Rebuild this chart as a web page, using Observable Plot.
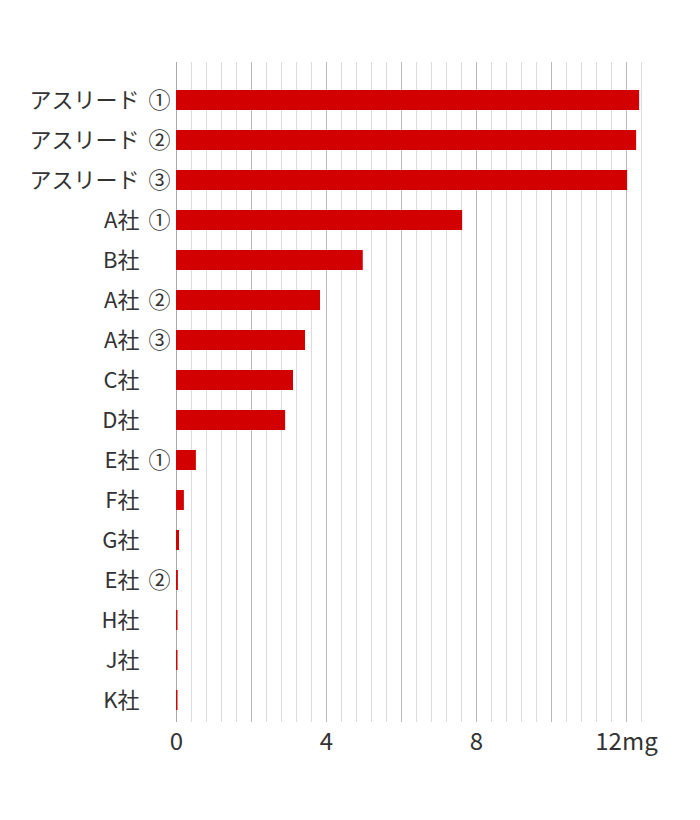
<!DOCTYPE html>
<html><head><meta charset="utf-8">
<script src="https://cdn.jsdelivr.net/npm/d3@7"></script>
<script src="https://cdn.jsdelivr.net/npm/@observablehq/plot@0.6"></script>
<style>
body{margin:0;background:#fff;}
#chart svg{display:block;}
</style>
</head><body>
<div id="chart"></div>
<script>
const names = ["アスリード","アスリード","アスリード","A社","B社","A社","A社","C社","D社","E社","F社","G社","E社","H社","J社","K社"];
const suffixes = ["①","②","③","①","","②","③","","","①","","","②","","",""];
const values = [12.35, 12.27, 12.03, 7.63, 4.98, 3.84, 3.44, 3.12, 2.91, 0.53, 0.21, 0.08, 0.05, 0.04, 0.04, 0.04];
const xTicks = [0, 4, 8, 12];
const unit = "mg";
const xMax = 12.4;
const minorStep = 0.4;
const majorStep = 2;

const data = names.map((n, i) => ({key: n + "|" + suffixes[i] + "|" + i, name: n, suffix: suffixes[i], value: values[i]}));
const keys = data.map(d => d.key);
const minor = d3.range(1, Math.round(xMax / minorStep) + 1).map(i => +(i * minorStep).toFixed(2)).filter(v => Math.abs(v / majorStep - Math.round(v / majorStep)) > 1e-6);
const major = d3.range(1, Math.floor(xMax / majorStep) + 1).map(i => i * majorStep);
const fmt = d => d === xTicks[xTicks.length - 1] ? d + unit : String(d);

const font = "'Noto Sans CJK JP', 'Noto Sans', sans-serif";
const chart = Plot.plot({
  width: 700,
  height: 800,
  marginLeft: 176,
  marginRight: 59,
  marginTop: 62,
  marginBottom: 78,
  style: {fontFamily: font, background: "#fff"},
  x: {domain: [0, xMax], label: null},
  y: {domain: keys, paddingInner: 0.5, paddingOuter: 0.25, insetTop: 18, insetBottom: 2, axis: null},
  marks: [
    Plot.ruleX(minor, {stroke: "#dcdcdc", strokeWidth: 1}),
    Plot.ruleX(major, {stroke: "#b8b8b8", strokeWidth: 1}),
    Plot.ruleX([0], {stroke: "#aaaaaa", strokeWidth: 1}),
    Plot.barX(data, {y: "key", x: "value", fill: "#d20000"}),
    Plot.text(data, {y: "key", text: "name", frameAnchor: "left", dx: -37, textAnchor: "end", fontSize: 22, fill: "#333"}),
    Plot.text(data, {y: "key", text: "suffix", frameAnchor: "left", dx: -6, textAnchor: "end", fontSize: 22, fill: "#333"}),
    Plot.axisX({ticks: xTicks, tickFormat: fmt, tickSize: 0, tickPadding: 10, fontSize: 24, color: "#333", label: null})
  ]
});
document.getElementById("chart").appendChild(chart);
</script>
</body></html>
